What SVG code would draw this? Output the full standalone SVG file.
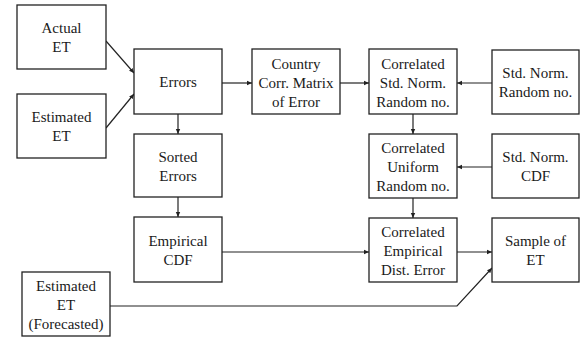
<svg xmlns="http://www.w3.org/2000/svg" width="580" height="337" viewBox="0 0 580 337">
<style>
.box{fill:#fff;stroke:#222;stroke-width:1.3}
.t{font-family:'Liberation Serif','Times New Roman','DejaVu Serif',serif;font-size:15px;fill:#1a1a1a;text-anchor:middle}
.c{fill:none;stroke:#222;stroke-width:1.2}
</style>
<defs>
<marker id="ah" markerWidth="6" markerHeight="6" refX="5" refY="3" orient="auto" markerUnits="userSpaceOnUse">
<path d="M0,0.8 L5,3 L0,5.2 Z" fill="#222"/>
</marker>
</defs>
<rect width="580" height="337" fill="#fff"/>
<g id="connectors">
<line class="c" x1="106" y1="41" x2="134" y2="73" marker-end="url(#ah)"/>
<line class="c" x1="106" y1="128" x2="134" y2="94" marker-end="url(#ah)"/>
<line class="c" x1="222" y1="83" x2="252" y2="83" marker-end="url(#ah)"/>
<line class="c" x1="340" y1="83" x2="369" y2="83" marker-end="url(#ah)"/>
<line class="c" x1="492" y1="83" x2="457" y2="83" marker-end="url(#ah)"/>
<line class="c" x1="413" y1="114" x2="413" y2="134" marker-end="url(#ah)"/>
<line class="c" x1="492" y1="167" x2="457" y2="167" marker-end="url(#ah)"/>
<line class="c" x1="413" y1="198" x2="413" y2="218" marker-end="url(#ah)"/>
<line class="c" x1="178" y1="114" x2="178" y2="134" marker-end="url(#ah)"/>
<line class="c" x1="178" y1="197" x2="178" y2="217" marker-end="url(#ah)"/>
<line class="c" x1="222" y1="252" x2="369" y2="252" marker-end="url(#ah)"/>
<line class="c" x1="457" y1="252" x2="492" y2="252" marker-end="url(#ah)"/>
<polyline class="c" points="110,306 457,306 492,268" marker-end="url(#ah)"/>
</g>
<g class="t" font-family="Liberation Serif, serif">
<g id="actual-et"><rect class="box" x="17" y="5" width="89" height="64"/><text x="61.5" y="33">Actual</text><text x="61.5" y="52">ET</text></g>
<g id="estimated-et"><rect class="box" x="17" y="94" width="89" height="64"/><text x="61.5" y="122">Estimated</text><text x="61.5" y="141">ET</text></g>
<g id="errors"><rect class="box" x="134" y="49" width="88" height="65"/><text x="178" y="87">Errors</text></g>
<g id="sorted-errors"><rect class="box" x="134" y="134" width="88" height="63"/><text x="178" y="162">Sorted</text><text x="178" y="181">Errors</text></g>
<g id="empirical-cdf"><rect class="box" x="134" y="217" width="88" height="65"/><text x="178" y="246">Empirical</text><text x="178" y="265">CDF</text></g>
<g id="estimated-et-forecasted"><rect class="box" x="22" y="272" width="88" height="64"/><text x="66" y="291">Estimated</text><text x="66" y="310">ET</text><text x="66" y="329">(Forecasted)</text></g>
<g id="country-corr"><rect class="box" x="252" y="49" width="88" height="65"/><text x="296" y="69">Country</text><text x="296" y="88">Corr. Matrix</text><text x="296" y="107">of Error</text></g>
<g id="corr-std-norm"><rect class="box" x="369" y="49" width="88" height="65"/><text x="413" y="69">Correlated</text><text x="413" y="88">Std. Norm.</text><text x="413" y="107">Random no.</text></g>
<g id="std-norm-random"><rect class="box" x="492" y="50" width="87" height="64"/><text x="535.5" y="78">Std. Norm.</text><text x="535.5" y="97">Random no.</text></g>
<g id="corr-uniform"><rect class="box" x="369" y="134" width="88" height="64"/><text x="413" y="153">Correlated</text><text x="413" y="172">Uniform</text><text x="413" y="191">Random no.</text></g>
<g id="std-norm-cdf"><rect class="box" x="492" y="134" width="87" height="64"/><text x="535.5" y="162">Std. Norm.</text><text x="535.5" y="181">CDF</text></g>
<g id="corr-empirical"><rect class="box" x="369" y="218" width="88" height="64"/><text x="413" y="237">Correlated</text><text x="413" y="256">Empirical</text><text x="413" y="275">Dist. Error</text></g>
<g id="sample-et"><rect class="box" x="492" y="218" width="87" height="64"/><text x="535.5" y="246">Sample of</text><text x="535.5" y="265">ET</text></g>
</g>
</svg>
